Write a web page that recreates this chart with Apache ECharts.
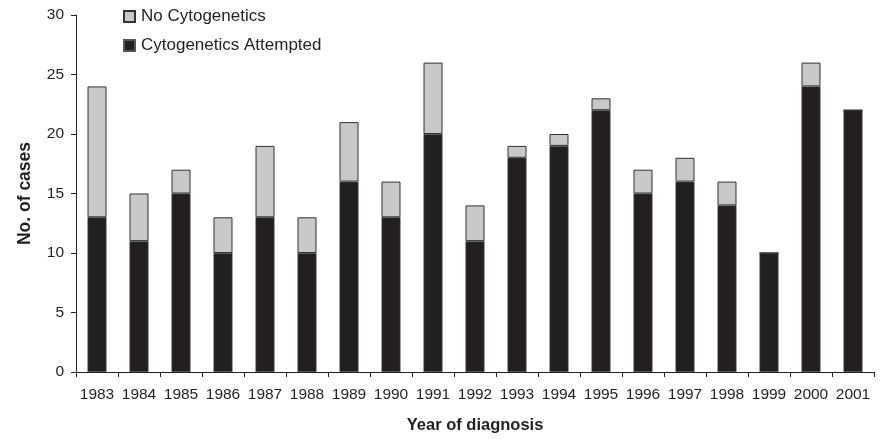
<!DOCTYPE html>
<html>
<head>
<meta charset="utf-8">
<script src="https://cdn.jsdelivr.net/npm/echarts@6/dist/echarts.min.js"></script>
<style>html,body{margin:0;padding:0;background:#fff}#c{width:880px;height:439px}</style>
</head>
<body>
<div id="c"></div>
<script>
const years = ['1983','1984','1985','1986','1987','1988','1989','1990','1991','1992','1993','1994','1995','1996','1997','1998','1999','2000','2001'];
const attempted = [13,11,15,10,13,10,16,13,20,11,18,19,22,15,16,14,10,24,22];
const noCyto = [11,4,2,3,6,3,5,3,6,3,1,1,1,2,2,2,0,2,0];
const yTicks = [0,5,10,15,20,25,30];

const chart = echarts.init(document.getElementById('c'));
const font = 'Liberation Sans, Arial, sans-serif';
chart.setOption({
  animation: false,
  textStyle: {fontFamily: font},
  grid: {left: 76, right: 6, top: 15, bottom: 64},
  legend: {
    orient: 'vertical', left: 123, top: 8, padding: 0, itemWidth: 11, itemHeight: 11, itemGap: 12,
    icon: 'rect',
    data: ['No Cytogenetics', 'Cytogenetics Attempted'],
    textStyle: {fontFamily: font, fontSize: 17, color: '#231f20', padding: [0, 0, 0, 1]}
  },
  xAxis: {
    type: 'category', data: years,
    name: 'Year of diagnosis', nameLocation: 'middle', nameGap: 45,
    nameTextStyle: {fontFamily: font, fontSize: 16.5, fontWeight: 'bold', color: '#231f20'},
    axisLine: {lineStyle: {color: '#231f20', width: 1}},
    axisTick: {show: true, inside: false, length: 5, lineStyle: {color: '#231f20'}},
    axisLabel: {fontFamily: font, fontSize: 15.5, color: '#231f20', margin: 15, interval: 0}
  },
  yAxis: {
    type: 'value', min: yTicks[0], max: yTicks[yTicks.length-1], interval: 5,
    name: 'No. of cases', nameLocation: 'middle', nameGap: 42,
    nameTextStyle: {fontFamily: font, fontSize: 17.5, fontWeight: 'bold', color: '#231f20'},
    axisLine: {show: true, lineStyle: {color: '#231f20', width: 1}},
    axisTick: {show: true, length: 5, lineStyle: {color: '#231f20'}},
    axisLabel: {fontFamily: font, fontSize: 15.5, color: '#231f20', margin: 12},
    splitLine: {show: false}
  },
  series: [
    {name: 'Cytogenetics Attempted', type: 'bar', stack: 'a', data: attempted, barWidth: 19,
     itemStyle: {color: '#231f20', borderColor: '#555', borderWidth: 0.6}},
    {name: 'No Cytogenetics', type: 'bar', stack: 'a', data: noCyto, barWidth: 19,
     itemStyle: {color: '#c6c8ca', borderColor: '#333', borderWidth: 1}}
  ]
});
</script>
</body>
</html>
